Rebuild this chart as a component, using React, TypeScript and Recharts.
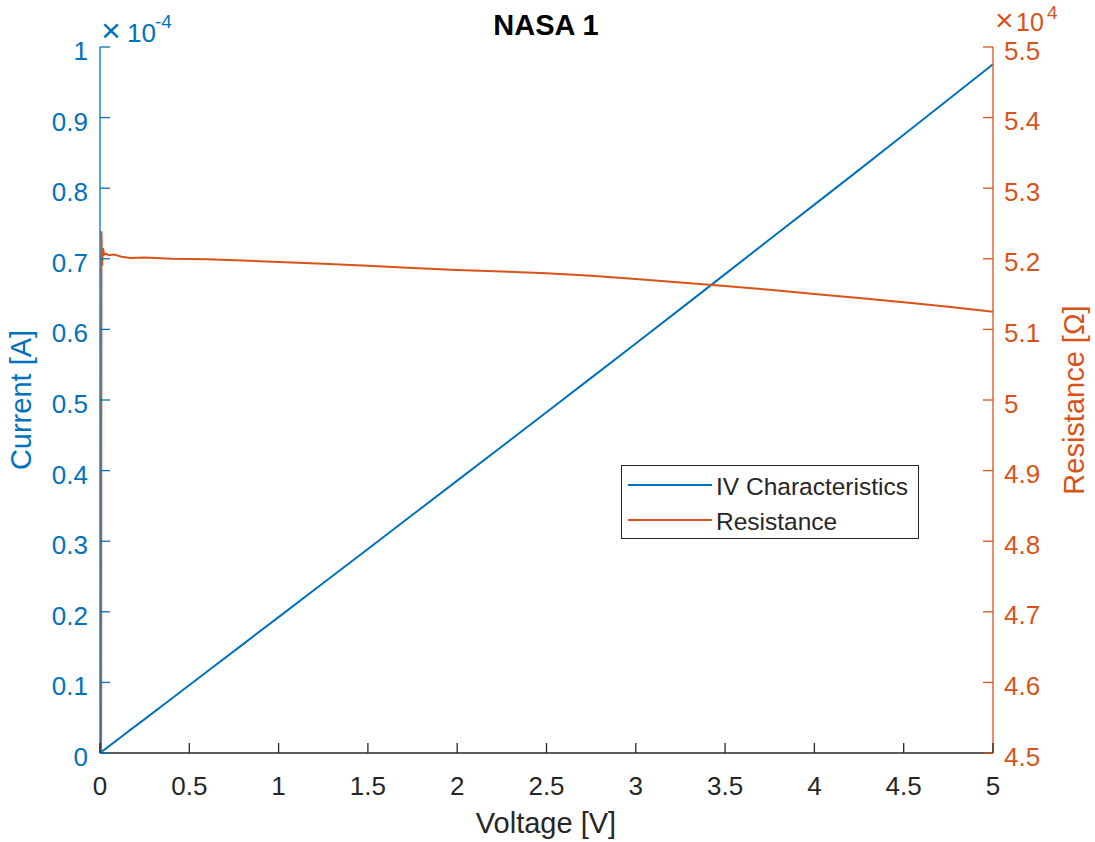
import React from "react";
import { LineChart, Line, XAxis, YAxis, Legend } from "recharts";

// voltage sweep [V]
const voltage = [
  0, 0.008, 0.012, 0.016, 0.024, 0.034, 0.05, 0.08, 0.12, 0.17, 0.25, 0.4, 0.6, 0.8, 1, 1.25, 1.5, 1.75, 2,
  2.25, 2.5, 2.75, 3, 3.25, 3.5, 3.75, 4, 4.25, 4.5, 4.75, 5,
];
// current, in units of 10^-4 A
const current = [
  0, 0.0015, 0.0023, 0.0031, 0.0046, 0.0065, 0.0096, 0.0154, 0.0231, 0.0327, 0.048, 0.0769, 0.1154, 0.1539,
  0.1925, 0.2407, 0.289, 0.3374, 0.3858, 0.4342, 0.4827, 0.5313, 0.58, 0.6291, 0.6783, 0.7277, 0.7767, 0.826,
  0.8758, 0.9256, 0.9756,
];
// resistance, in units of 10^4 Ohm
const resistance = [
  2.0, 5.239, 5.19, 5.215, 5.206, 5.207, 5.205, 5.206, 5.203, 5.201, 5.202, 5.2, 5.1995, 5.1975, 5.1955,
  5.193, 5.19, 5.187, 5.184, 5.182, 5.1795, 5.176, 5.1715, 5.1665, 5.1615, 5.156, 5.15, 5.1445, 5.1385,
  5.132, 5.125,
];

const voltageTicks = [0, 0.5, 1, 1.5, 2, 2.5, 3, 3.5, 4, 4.5, 5];
const currentTicks = [0, 0.1, 0.2, 0.3, 0.4, 0.5, 0.6, 0.7, 0.8, 0.9, 1];
const resistanceTicks = [4.5, 4.6, 4.7, 4.8, 4.9, 5, 5.1, 5.2, 5.3, 5.4, 5.5];

const BLUE = "#0072BD";
const ORANGE = "#D95319";
const INK = "#262626";
const FONT = '"Liberation Sans", Arial, Helvetica, sans-serif';
const TICK_FONT = 26;

const rows = voltage.map((v, i) => ({ v, current: current[i], resistance: resistance[i] }));

const BottomTick = ({ x, y, payload }: any) => (
  <g>
    <line x1={x} x2={x} y1={y} y2={y - 10} stroke={INK} strokeWidth={1.3} />
    <text x={x} y={y + 42} textAnchor="middle" fill={INK} fontSize={TICK_FONT} fontFamily={FONT}>
      {payload.value}
    </text>
  </g>
);

const TopTick = ({ x, y }: any) => <line x1={x} x2={x} y1={y} y2={y + 10} stroke={INK} strokeWidth={1.3} />;

const LeftTick = ({ x, y, payload }: any) => (
  <g>
    <line x1={x} x2={x + 10} y1={y} y2={y} stroke={BLUE} strokeWidth={1.3} />
    <text x={x - 12} y={y + 13} textAnchor="end" fill={BLUE} fontSize={TICK_FONT} fontFamily={FONT}>
      {payload.value}
    </text>
  </g>
);

const RightTick = ({ x, y, payload }: any) => (
  <g>
    <line x1={x - 10} x2={x} y1={y} y2={y} stroke={ORANGE} strokeWidth={1.3} />
    <text x={x + 11} y={y + 12.5} textAnchor="start" fill={ORANGE} fontSize={TICK_FONT} fontFamily={FONT}>
      {payload.value}
    </text>
  </g>
);

const LegendBox = ({ payload }: any) => (
  <svg width={298} height={75} style={{ display: "block" }}>
    <rect x={0.5} y={0.5} width={297} height={73} fill="#fff" stroke={INK} strokeWidth={1} />
    {(payload || []).map((p: any, i: number) => (
      <g key={p.value}>
        <line x1={7} x2={91} y1={20 + i * 35} y2={20 + i * 35} stroke={p.color} strokeWidth={2} />
        <text x={95} y={30 + i * 35} fill={INK} fontSize={24.5} fontFamily={FONT}>
          {p.value}
        </text>
      </g>
    ))}
  </svg>
);

export default function App() {
  return (
    <div style={{ position: "relative", width: 1095, height: 842, background: "#fff" }}>
      <style>{`body{margin:0}`}</style>
      <LineChart width={1095} height={842} data={rows} margin={{ top: 47, right: 0, bottom: 0, left: 0 }}>
        <XAxis
          dataKey="v"
          type="number"
          domain={[0, 5]}
          ticks={voltageTicks}
          interval={0}
          height={89}
          tickSize={0}
          tickMargin={0}
          tickLine={false}
          tick={(p: any) => <BottomTick {...p} />}
          axisLine={{ stroke: INK, strokeWidth: 1.3 }}
        />
        <XAxis
          xAxisId="top"
          orientation="top"
          dataKey="v"
          type="number"
          domain={[0, 5]}
          ticks={voltageTicks}
          interval={0}
          height={0}
          tickSize={0}
          tickMargin={0}
          tickLine={false}
          tick={(p: any) => <TopTick {...p} />}
          axisLine={{ stroke: INK, strokeWidth: 1.3 }}
        />
        <YAxis
          yAxisId="left"
          orientation="left"
          domain={[0, 1]}
          ticks={currentTicks}
          interval={0}
          width={100}
          tickSize={0}
          tickMargin={0}
          tickLine={false}
          tick={(p: any) => <LeftTick {...p} />}
          axisLine={{ stroke: BLUE, strokeWidth: 1.3 }}
        />
        <YAxis
          yAxisId="right"
          orientation="right"
          domain={[4.5, 5.5]}
          allowDataOverflow
          ticks={resistanceTicks}
          interval={0}
          width={102}
          tickSize={0}
          tickMargin={0}
          tickLine={false}
          tick={(p: any) => <RightTick {...p} />}
          axisLine={{ stroke: ORANGE, strokeWidth: 1.3 }}
        />
        <Line
          yAxisId="left"
          type="linear"
          dataKey="current"
          name="IV Characteristics"
          stroke={BLUE}
          strokeWidth={2}
          dot={false}
          activeDot={false}
          isAnimationActive={false}
        />
        <Line
          yAxisId="right"
          type="linear"
          dataKey="resistance"
          name="Resistance"
          stroke={ORANGE}
          strokeWidth={2}
          dot={false}
          activeDot={false}
          isAnimationActive={false}
        />
        <Legend
          layout="vertical"
          align="center"
          verticalAlign="middle"
          content={(p: any) => <LegendBox {...p} />}
          wrapperStyle={{ left: 621, top: 465, width: 298, height: 75 }}
        />
      </LineChart>
      <svg
        width={1095}
        height={842}
        style={{ position: "absolute", left: 0, top: 0, pointerEvents: "none" }}
        fontFamily={FONT}
      >
        <text x={546} y={35} textAnchor="middle" fontSize={29} fontWeight="bold" fill="#000">
          NASA 1
        </text>
        <text x={546} y={833} textAnchor="middle" fontSize={29} fill={INK}>
          Voltage [V]
        </text>
        <text x={31} y={400} textAnchor="middle" fontSize={29} fill={BLUE} transform="rotate(-90 31 400)">
          Current [A]
        </text>
        <text x={1084} y={400} textAnchor="middle" fontSize={29} fill={ORANGE} transform="rotate(-90 1084 400)">
          Resistance [Ω]
        </text>
        <text y={42} fill={BLUE} fontSize={26}>
          <tspan x={101} fontSize={34}>×</tspan>
          <tspan x={127}>10</tspan>
          <tspan x={155} y={28} fontSize={19}>
            -4
          </tspan>
        </text>
        <text y={31} fill={ORANGE} fontSize={25}>
          <tspan x={995} fontSize={32}>×</tspan>
          <tspan x={1016}>10</tspan>
          <tspan x={1047} y={19} fontSize={19}>
            4
          </tspan>
        </text>
      </svg>
    </div>
  );
}
